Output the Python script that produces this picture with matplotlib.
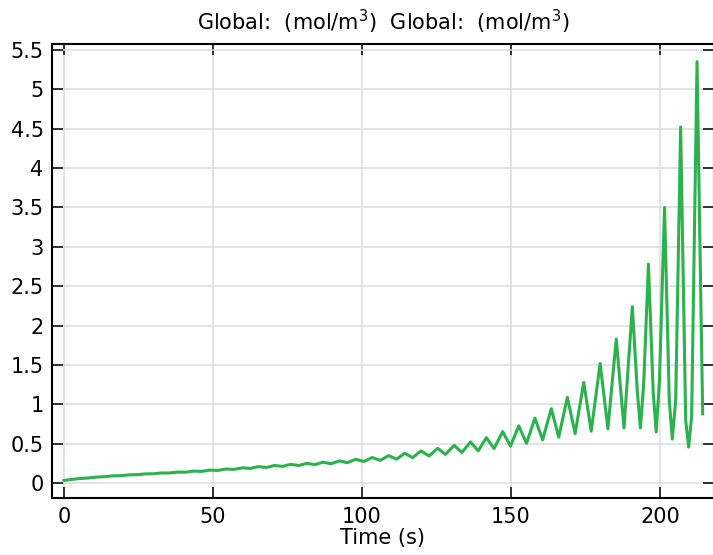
import numpy as np
import matplotlib
matplotlib.use("Agg")
import matplotlib.pyplot as plt

# peaks and troughs of the oscillation (time in s, value in mol/m^3)
t_peak = [5.4, 10.9, 16.3, 21.8, 27.2, 32.6, 38.0, 43.5, 48.9, 54.3, 59.8, 65.2, 70.6,
          76.0, 81.5, 86.9, 92.4, 97.9, 103.4, 108.9, 114.3, 119.8, 125.4, 130.9, 136.4,
          141.7, 147.2, 152.6, 158.0, 163.5, 168.9, 174.4, 179.9, 185.3, 190.7, 196.1,
          201.5, 206.9, 212.4]
c_peak = [0.060, 0.078, 0.093, 0.106, 0.118, 0.130, 0.141, 0.153, 0.166, 0.180, 0.195,
          0.210, 0.225, 0.240, 0.252, 0.267, 0.283, 0.304, 0.326, 0.350, 0.380, 0.410,
          0.443, 0.480, 0.523, 0.578, 0.655, 0.728, 0.826, 0.945, 1.09, 1.28, 1.52, 1.83,
          2.24, 2.78, 3.50, 4.52, 5.35]
t_trough = [0.0, 8.1, 13.6, 19.0, 24.5, 29.9, 35.3, 40.8, 46.2, 51.6, 57.1, 62.5, 67.9,
            73.3, 78.8, 84.2, 89.6, 95.1, 100.6, 106.1, 111.6, 117.0, 122.5, 128.0, 133.5,
            139.0, 144.3, 149.8, 155.2, 160.6, 166.0, 171.5, 176.9, 182.5, 187.9, 193.4,
            198.7, 204.1, 209.6]
c_trough = [0.035, 0.066, 0.082, 0.096, 0.108, 0.119, 0.130, 0.140, 0.150, 0.162, 0.175,
            0.188, 0.200, 0.213, 0.225, 0.235, 0.247, 0.260, 0.275, 0.290, 0.305, 0.325,
            0.345, 0.365, 0.390, 0.410, 0.440, 0.470, 0.505, 0.550, 0.585, 0.630, 0.660,
            0.690, 0.700, 0.700, 0.650, 0.560, 0.458]
# extra points on both sides of the wide troughs of the last cycles
t_shoulder_l = [192.4, 197.7, 203.1, 208.6]
c_shoulder_l = [1.15, 1.15, 1.05, 0.80]
t_shoulder_r = [194.5, 199.8, 205.25, 210.6]
c_shoulder_r = [1.25, 1.30, 1.05, 0.85]
t_end, c_end = 214.3, 0.88

x_ticks = [0, 50, 100, 150, 200]
y_ticks = [0, 0.5, 1, 1.5, 2, 2.5, 3, 3.5, 4, 4.5, 5, 5.5]
y_labels = ["0", "0.5", "1", "1.5", "2", "2.5", "3", "3.5", "4", "4.5", "5", "5.5"]

pts = list(zip(t_peak, c_peak)) + list(zip(t_trough, c_trough)) \
    + list(zip(t_shoulder_l, c_shoulder_l)) + list(zip(t_shoulder_r, c_shoulder_r)) \
    + [(t_end, c_end)]
pts.sort()
t = [p[0] for p in pts]
c = [p[1] for p in pts]

plt.rcParams['font.family'] = ['DejaVu Sans']
fig = plt.figure(figsize=(7.13, 5.55), dpi=100)
W, H = 713, 555
left, right, top, bottom = 52, 714, 44.3, 497.7
ax = fig.add_axes([left / W, 1 - bottom / H, (right - left) / W, (bottom - top) / H])

ax.plot(t, c, color='#2bb24c', lw=2.2, solid_joinstyle='round', zorder=3)

ax.set_xlim(-4.03, 218.1)
ax.set_ylim(-0.184, 5.57)
ax.set_xticks(x_ticks)
ax.set_yticks(y_ticks)
ax.set_yticklabels(y_labels)
ax.grid(True, color='#dcdcdc', lw=1.1)
ax.set_axisbelow(True)
for s in ax.spines.values():
    s.set_linewidth(1.5)
ax.tick_params(direction='in', length=8, width=1.1, labelsize=15, pad=6,
               top=True, right=True)
ax.tick_params(axis='x', pad=7)

ax.set_title('Global:  (mol/m$^3$)  Global:  (mol/m$^3$)', fontsize=15, pad=10.5)
ax.set_xlabel('Time (s)', fontsize=15)
ax.xaxis.set_label_coords(0.5, -(538 - bottom) / (bottom - top))
ax.xaxis.label.set_va('center')

fig.savefig('out.png', dpi=100)
